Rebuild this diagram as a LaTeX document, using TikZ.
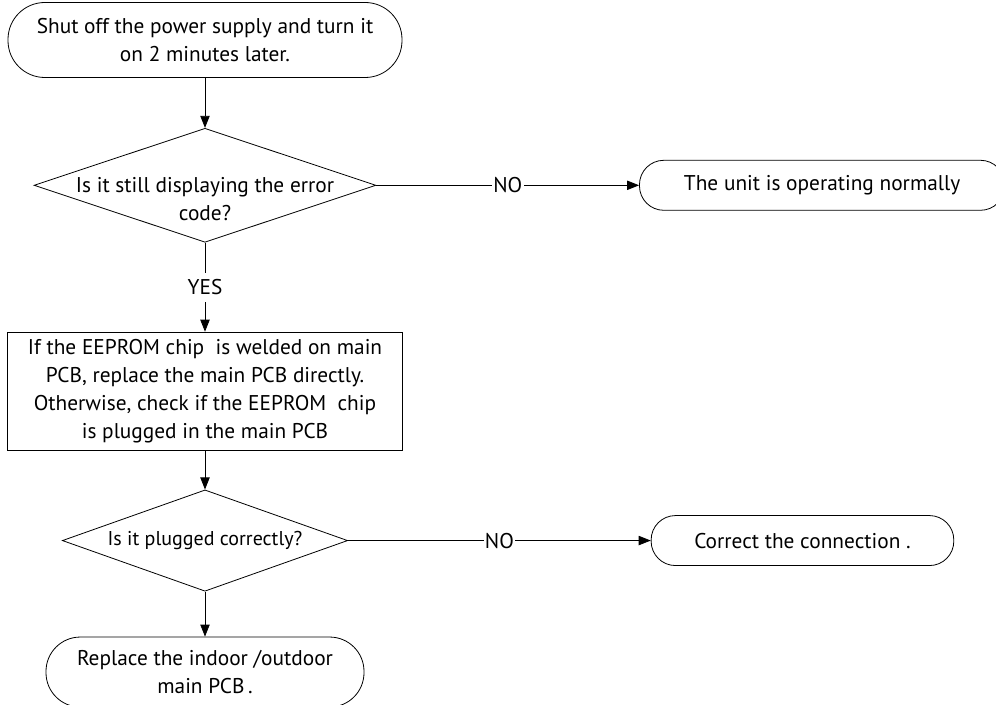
\documentclass[tikz,border=0pt]{standalone}
\usepackage{fontspec}
\setmainfont{PT Sans}
\usetikzlibrary{arrows.meta, positioning, shapes.geometric}

\begin{document}
\begin{tikzpicture}[
    font=\fontsize{16pt}{21pt}\selectfont,
    line width=0.6pt,
    >={Triangle[length=9pt,width=7pt]},
    term/.style n args={2}{draw, align=center, inner sep=1pt,
      minimum width=#1, minimum height=#2, rounded corners=#2/2-0.5pt},
    procbox/.style n args={2}{draw, align=center, inner sep=1pt,
      minimum width=#1, minimum height=#2},
    ask/.style n args={2}{draw, diamond, inner sep=0pt,
      minimum width=#1, minimum height=#2},
    tag/.style={fill=white, inner sep=1pt}
  ]
  \useasboundingbox (0,0) rectangle (747pt,-528.75pt);

  \node [term={295.5pt}{56.25pt}] (t1) at (153.75pt,-30pt)
    {Shut off the power supply and turn it\\on 2 minutes later.};
  \node [ask={256.5pt}{85.5pt}, below=37.5pt of t1,
    label={[align=center, yshift=-10pt]center:Is it still displaying the error\\code?}] (d1) {};
  \node [term={274pt}{37.5pt}, right=197pt of d1] (t2) {The unit is operating normally};

  \node [procbox={296pt}{88.5pt}, below=66.75pt of d1] (b1)
    {If the EEPROM chip\ \ is welded on main\\PCB, replace the\ main PCB directly.\\Otherwise, check if the EEPROM\ \ chip\\is plugged in the main PCB};
  \node [ask={214pt}{76pt}, below=29.25pt of b1,
    label={[font=\fontsize{15pt}{21pt}\selectfont]center:Is it plugged correctly?}] (d2) {};
  \node [term={227pt}{37.5pt}, right=227pt of d2] (t3) {Correct the connection .};
  \node [term={238.5pt}{52.5pt}, below=33.75pt of d2] (t4)
    {Replace the indoor /outdoor\\main PCB\,.};

  \draw [->] (t1) -- (d1);
  \draw [->] (d1) -- node [tag] {NO} (t2);
  \draw [->] (d1) -- node [tag, inner sep=5pt] {YES} (b1);
  \draw [->] (b1) -- (d2);
  \draw [->] (d2) -- node [tag] {NO} (t3);
  \draw [->] (d2) -- (t4);
\end{tikzpicture}
\end{document}
